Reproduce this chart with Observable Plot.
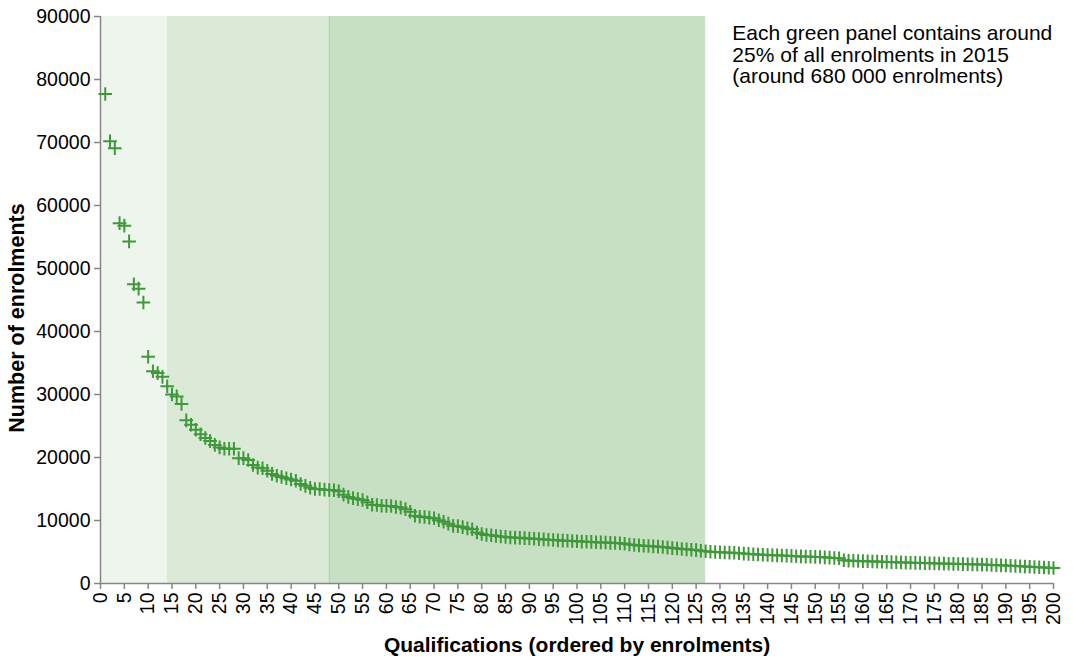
<!DOCTYPE html>
<html>
<head>
<meta charset="utf-8">
<script src="https://cdn.jsdelivr.net/npm/d3@7"></script>
<script src="https://cdn.jsdelivr.net/npm/@observablehq/plot@0.6"></script>
<style>
  html, body { margin: 0; padding: 0; background: #fff; }
  #chart svg [aria-label="x-axis tick"] path,
  #chart svg [aria-label="y-axis tick"] path { stroke: #868686; stroke-width: 1.5; }
</style>
</head>
<body>
<div id="chart"></div>
<script>
// Enrolments for qualifications ranked 1..200
const enrolments = [
  77700, 70200, 69100, 57200, 56800, 54300, 47500, 46800, 44600, 36000,
  33700, 33400, 32800, 31300, 30000, 29700, 28500, 25900, 25200, 24400,
  23700, 23100, 22600, 22000, 21600, 21400, 21400, 21400, 19900, 19900,
  19600, 18800, 18400, 18300, 17900, 17400, 17100, 16900, 16700, 16500,
  16300, 15800, 15500, 15200, 15000, 15000, 14900, 14850, 14800, 14650,
  14100, 13750, 13550, 13400, 13250, 12900, 12500, 12450, 12350, 12320,
  12300, 12150, 12050, 11800, 11400, 10750, 10600, 10550, 10450, 10350,
  10050, 9800, 9500, 9150, 9100, 8950, 8750, 8600, 8100, 7850,
  7700, 7650, 7550, 7450, 7400, 7300, 7280, 7250, 7200, 7150,
  7100, 7050, 7000, 6950, 6900, 6850, 6800, 6780, 6750, 6700,
  6650, 6620, 6600, 6550, 6520, 6500, 6450, 6420, 6380, 6300,
  6200, 6100, 6050, 6000, 5950, 5900, 5850, 5800, 5700, 5620,
  5550, 5480, 5420, 5350, 5300, 5200, 5120, 5050, 5000, 4950,
  4920, 4900, 4880, 4800, 4750, 4700, 4650, 4600, 4560, 4520,
  4500, 4470, 4450, 4420, 4380, 4330, 4300, 4270, 4250, 4220,
  4200, 4150, 4100, 4050, 4000, 3700, 3620, 3600, 3580, 3550,
  3520, 3500, 3480, 3460, 3430, 3400, 3380, 3350, 3320, 3300,
  3280, 3260, 3240, 3220, 3200, 3180, 3160, 3140, 3120, 3100,
  3080, 3060, 3040, 3020, 3000, 2970, 2940, 2910, 2880, 2850,
  2820, 2780, 2740, 2700, 2660, 2620, 2580, 2540, 2500, 2450
];
const ranks = enrolments.map((_, i) => i + 1);

// Quartile panels (rank boundaries)
const panelStarts = [0, 14, 48];
const panelEnds = [14, 48, 127];
const panelColors = ["#eef5ec", "#dbead7", "#c7dfc2"];

const xTicks = d3.range(0, 201, 5);
const yTicks = d3.range(0, 90001, 10000);

const xTitle = "Qualifications (ordered by enrolments)";
const yTitle = "Number of enrolments";
const note = "Each green panel contains around\n25% of all enrolments in 2015\n(around 680 000 enrolments)";

const points = ranks.map((r, i) => ({rank: r, value: enrolments[i]}));
const panels = panelStarts.map((s, i) => ({start: s, end: panelEnds[i], color: panelColors[i]}));

const plusSymbol = {
  draw(context, size) {
    const r = Math.sqrt(size / Math.PI);
    context.moveTo(-r, 0); context.lineTo(r, 0);
    context.moveTo(0, -r); context.lineTo(0, r);
  }
};

const TICK_FONT = 19.5;
const TITLE_FONT = 21;
const NOTE_FONT = 21;

const chart = Plot.plot({
  width: 1073,
  height: 670,
  marginLeft: 100,
  marginRight: 20,
  marginTop: 16,
  marginBottom: 87,
  style: {fontFamily: "'Liberation Sans', Arial, sans-serif", fontSize: TICK_FONT + "px", background: "#fff", color: "#000"},
  x: {domain: [0, 200]},
  y: {domain: [0, 90000]},
  marks: [
    Plot.rect(panels, {x1: "start", x2: "end", y1: 0, y2: 90000, fill: "color"}),
    Plot.ruleX([panelStarts[2]], {stroke: "#b3d2ac", strokeWidth: 1}),
    Plot.axisX({ticks: xTicks, tickRotate: -90, tickSize: 6, tickPadding: 3, fontSize: TICK_FONT, label: null, tickFormat: d3.format("d")}),
    Plot.axisY({ticks: yTicks, tickSize: 6, tickPadding: 4, fontSize: TICK_FONT, label: null, tickFormat: d3.format("d")}),
    Plot.ruleX([0], {stroke: "#868686", strokeWidth: 1.5}),
    Plot.ruleY([0], {stroke: "#868686", strokeWidth: 1.5}),
    Plot.dot(points, {x: "rank", y: "value", symbol: plusSymbol, r: 6.8, stroke: "#3f993a", strokeWidth: 2, fill: "none"}),
    Plot.text([note], {x: 132.6, y: 88700, text: d => d, textAnchor: "start", lineAnchor: "top", fontSize: NOTE_FONT, lineHeight: 1.03, fill: "#000"}),
    Plot.text([xTitle], {frameAnchor: "bottom", dy: 62, text: d => d, textAnchor: "middle", lineAnchor: "middle", fontWeight: "bold", fontSize: TITLE_FONT, fill: "#000"}),
    Plot.text([yTitle], {frameAnchor: "left", dx: -83, dy: 18, rotate: -90, text: d => d, textAnchor: "middle", lineAnchor: "middle", fontWeight: "bold", fontSize: 21.5, fill: "#000"})
  ]
});
document.getElementById("chart").appendChild(chart);
</script>
</body>
</html>
